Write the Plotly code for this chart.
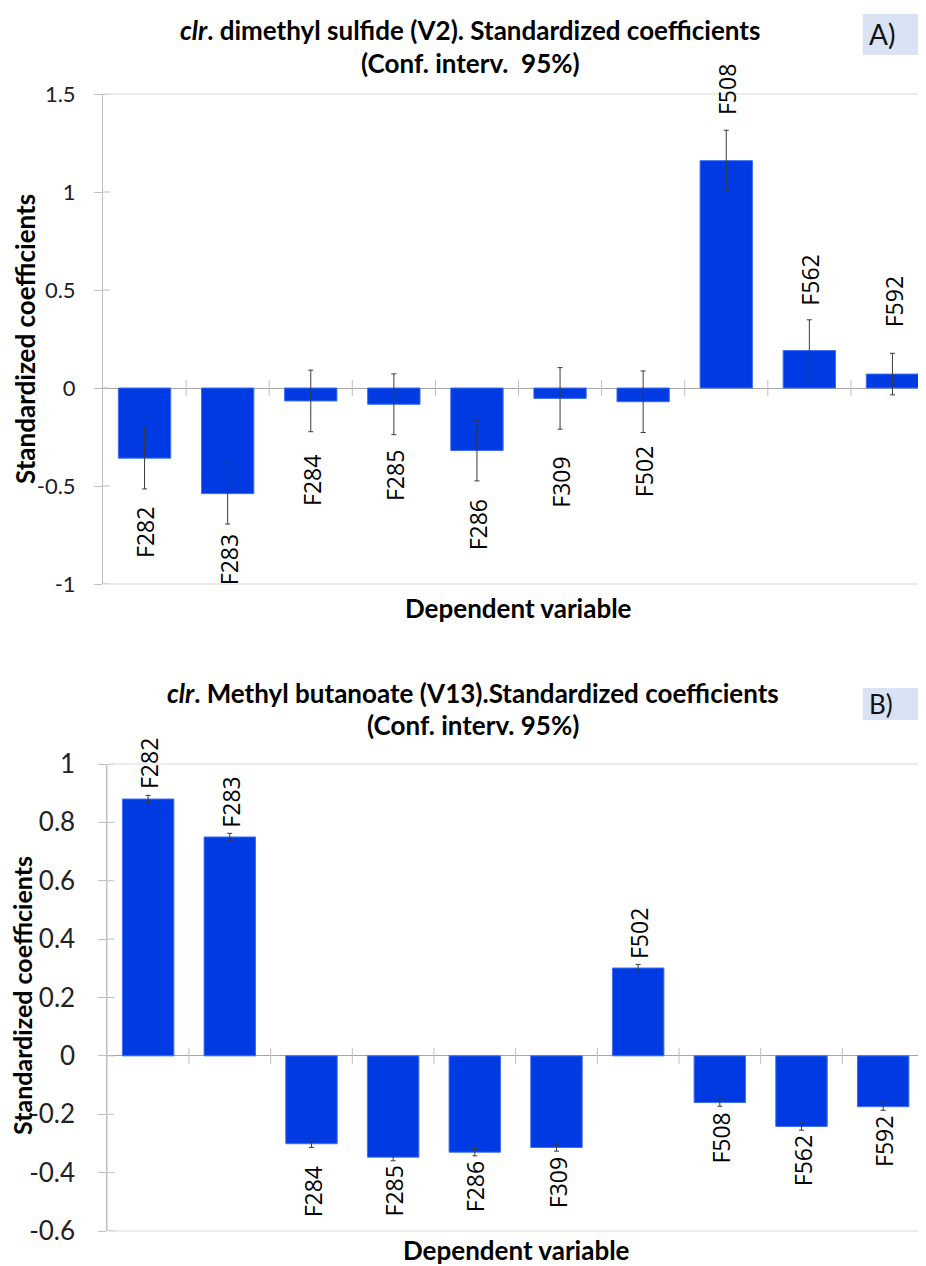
import plotly.graph_objects as go

# ---------------- data ----------------
categories = ["F282", "F283", "F284", "F285", "F286", "F309", "F502", "F508", "F562", "F592"]

coef_a = [-0.358, -0.539, -0.066, -0.083, -0.319, -0.053, -0.070, 1.160, 0.191, 0.071]
err_a = [0.157, 0.155, 0.157, 0.155, 0.155, 0.157, 0.157, 0.155, 0.157, 0.106]

coef_b = [0.880, 0.750, -0.301, -0.347, -0.330, -0.314, 0.301, -0.160, -0.242, -0.174]
err_b = [0.0125, 0.0125, 0.0125, 0.0125, 0.0125, 0.0125, 0.0125, 0.0125, 0.0125, 0.0125]

ticks_a = [-1, -0.5, 0, 0.5, 1, 1.5]
ticks_b = [-0.6, -0.4, -0.2, 0, 0.2, 0.4, 0.6, 0.8, 1]

title_a1 = "<b><i>clr</i>. dimethyl sulfide (V2). Standardized coefficients</b>"
title_a2 = "<b>(Conf. interv.  95%)</b>"
title_b1 = "<b><i>clr</i>. Methyl butanoate (V13).Standardized coefficients</b>"
title_b2 = "<b>(Conf. interv. 95%)</b>"
ytitle = "<b>Standardized coefficients</b>"
xtitle = "<b>Dependent variable</b>"

# ---------------- style ----------------
# the page body has an 8px margin, so the figure is offset by OFF px
OFF = 8
W, H = 926 - OFF, 1266 - OFF
BAR = "#003ae2"
BAR_EDGE = "#3f6ff5"
ERR = "#3a3a3a"
AXIS = "#bfbfbf"
ZERO = "#a6a6a6"
BORDER = "#d9d9d9"
TXT = "#000000"
FONT = "Lato"
LABFONT = "Open Sans"

# label gaps (px) between error-bar end and data label
gap_a = [17, 9, 22, 14, 17, 27, 13, 14, 13, 25]
gap_b = [5, 5, 18, 4, 4, 5, 4, 5, 4, 5]

# plot area pixel boxes in page pixels: (left, right, top, bottom)
box_a = (103, 934, 94, 584)
box_b = (107.3, 924, 764, 1231)


def px(x):
    return (x - OFF) / W


def py(y):
    return 1 - (y - OFF) / H


def dom(box):
    l, r, t, b = box
    return [px(l), min(1, px(r))], [py(b), py(t)]


xd_a, yd_a = dom(box_a)
xd_b, yd_b = dom(box_b)

fig = go.Figure()

fig.add_trace(go.Bar(
    x=categories, y=coef_a, xaxis="x", yaxis="y", width=0.63,
    marker=dict(color=BAR, line=dict(color=BAR_EDGE, width=1)),
    error_y=dict(type="data", array=err_a, color=ERR, thickness=1, width=2.5),
    showlegend=False, hoverinfo="x+y"))

fig.add_trace(go.Bar(
    x=categories, y=coef_b, xaxis="x2", yaxis="y2", width=0.63,
    marker=dict(color=BAR, line=dict(color=BAR_EDGE, width=1)),
    error_y=dict(type="data", array=err_b, color=ERR, thickness=1, width=2.5),
    showlegend=False, hoverinfo="x+y"))

# visible part of the last category in panel A (plot area runs past the right edge)
vis_a = (926 - box_a[0]) / (box_a[1] - box_a[0]) * 10 - 0.5

common_x = dict(type="category", showticklabels=False, showgrid=False, showline=False,
                zeroline=False, ticks="", automargin=False)
fig.update_layout(
    width=W, height=H, margin=dict(l=0, r=0, t=0, b=0, pad=0, autoexpand=False),
    paper_bgcolor="white", plot_bgcolor="white",
    font=dict(family=FONT, color=TXT),
    xaxis=dict(domain=xd_a, anchor="y", range=[-0.5, vis_a], **common_x),
    yaxis=dict(domain=yd_a, anchor="x", range=[-1, 1.5], tickvals=ticks_a,
               ticktext=[f"{t:g}" for t in ticks_a], automargin=False,
               showgrid=False, showline=True, linecolor=AXIS, linewidth=1,
               zeroline=True, zerolinecolor=ZERO, zerolinewidth=1,
               ticks="outside", ticklen=8, tickcolor=AXIS,
               ticklabelstandoff=14,
               tickfont=dict(family=FONT, size=22, color="#222")),
    xaxis2=dict(domain=xd_b, anchor="y2", range=[-0.5, 9.5], **common_x),
    yaxis2=dict(domain=yd_b, anchor="x2", range=[-0.6, 1], tickvals=ticks_b,
                ticktext=[f"{t:g}" for t in ticks_b], automargin=False,
                showgrid=False, showline=True, linecolor=AXIS, linewidth=1,
                zeroline=True, zerolinecolor=ZERO, zerolinewidth=1,
                ticks="outside", ticklen=8, tickcolor=AXIS,
                ticklabelstandoff=18,
                tickfont=dict(family=FONT, size=26, color="#222")),
)

shapes = []
# borders
shapes.append(dict(type="line", xref="x domain", yref="y domain", x0=0, x1=1, y0=1, y1=1,
                   line=dict(color=BORDER, width=1)))
shapes.append(dict(type="line", xref="x domain", yref="y domain", x0=0, x1=1, y0=0, y1=0,
                   line=dict(color=BORDER, width=1)))
shapes.append(dict(type="rect", xref="x2 domain", yref="y2 domain", x0=0, x1=1, y0=0, y1=1,
                   line=dict(color=BORDER, width=1), layer="below"))
# inside part of y ticks
for ax, tv, box in (("", ticks_a, box_a), ("2", ticks_b, box_b)):
    dw = (min(box[1], 926) - box[0])
    for t in tv:
        shapes.append(dict(type="line", xref=f"x{ax} domain", yref=f"y{ax}",
                           x0=0, x1=7 / dw, y0=t, y1=t, line=dict(color=AXIS, width=1)))
# category boundary ticks on zero line
for ax in ("", "2"):
    for k in range(len(categories) - 1):
        shapes.append(dict(type="line", xref=f"x{ax}", yref=f"y{ax}",
                           x0=k + 0.5, x1=k + 0.5, ysizemode="pixel", yanchor=0,
                           y0=-8, y1=8, line=dict(color=AXIS, width=1)))
# panel label boxes
shapes.append(dict(type="rect", xref="paper", yref="paper", x0=px(862.7), x1=1,
                   y0=py(55), y1=py(14), fillcolor="#dae3f3", line=dict(width=0)))
shapes.append(dict(type="rect", xref="paper", yref="paper", x0=px(862.7), x1=1,
                   y0=py(720), y1=py(688), fillcolor="#dae3f3", line=dict(width=0)))
fig.update_layout(shapes=shapes)

ann = []
# data labels
for ax, vals, errs, gaps in (("", coef_a, err_a, gap_a), ("2", coef_b, err_b, gap_b)):
    for c, v, e, g in zip(categories, vals, errs, gaps):
        pos = v >= 0
        ann.append(dict(xref=f"x{ax}", yref=f"y{ax}", x=c, y=v + e if pos else v - e,
                        text=c, showarrow=False, textangle=-90,
                        yanchor="bottom" if pos else "top",
                        yshift=(g - 1) if pos else -(g - 1), xshift=1,
                        font=dict(family=LABFONT, size=23, color=TXT)))


def pann(text, x, y, size, **kw):
    d = dict(xref="paper", yref="paper", x=px(x), y=py(y), text=text, showarrow=False,
             xanchor="center", yanchor="middle", font=dict(family=FONT, size=size, color=TXT))
    d.update(kw)
    return d


ann += [
    pann(title_a1, 470, 30, 26),
    pann(title_a2, 470, 63, 26),
    pann(title_b1, 473, 693, 26),
    pann(title_b2, 473, 725, 26),
    pann(ytitle, 25, 339, 26, textangle=-90),
    pann(ytitle, 22, 996, 25, textangle=-90),
    pann(xtitle, 518, 608, 26),
    pann(xtitle, 516, 1250, 26),
    pann("A)", 882, 34, 28, font=dict(family=FONT, size=28, color="#111")),
    pann("B)", 881, 704, 26, font=dict(family=FONT, size=26, color="#111")),
]
fig.update_layout(annotations=ann)

fig.write_html("out.html")
